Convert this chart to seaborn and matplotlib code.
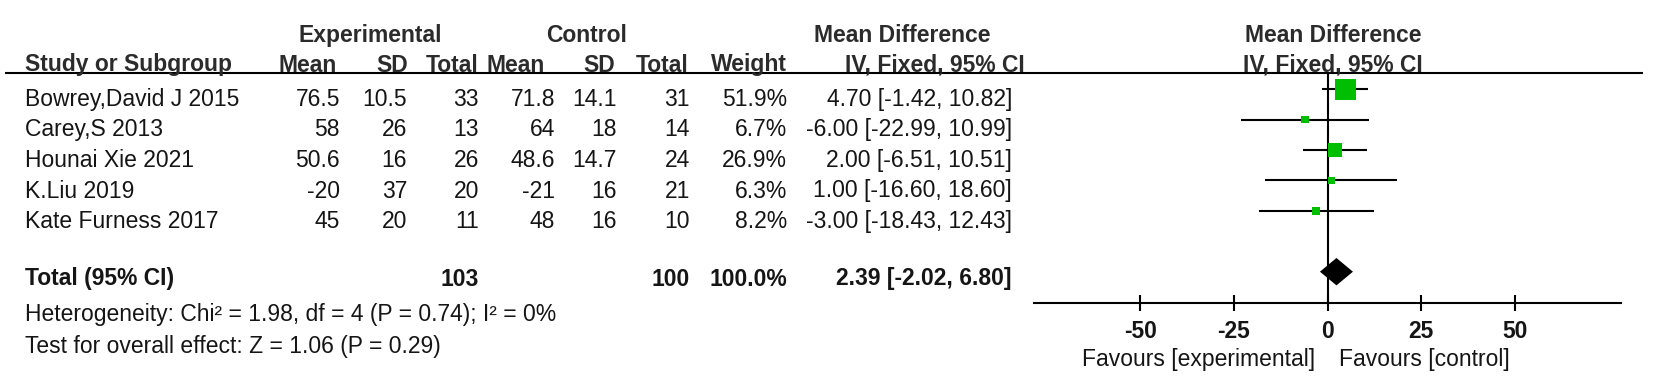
import numpy as np
import pandas as pd
import matplotlib
matplotlib.use("Agg")
import matplotlib.pyplot as plt
import matplotlib.transforms as mtransforms
import seaborn as sns

# ---------------- data ----------------
studies = ["Bowrey,David J 2015", "Carey,S 2013", "Hounai Xie 2021", "K.Liu 2019", "Kate Furness 2017"]
exp_mean = [76.5, 58, 50.6, -20, 45]
exp_sd = [10.5, 26, 16, 37, 20]
exp_n = [33, 13, 26, 20, 11]
ctrl_mean = [71.8, 64, 48.6, -21, 48]
ctrl_sd = [14.1, 18, 14.7, 16, 16]
ctrl_n = [31, 14, 24, 21, 10]
weights = [51.9, 6.7, 26.9, 6.3, 8.2]
md = [4.70, -6.00, 2.00, 1.00, -3.00]
ci_lo = [-1.42, -22.99, -6.51, -16.60, -18.43]
ci_hi = [10.82, 10.99, 10.51, 18.60, 12.43]

total_exp_n = 103
total_ctrl_n = 100
total_weight = 100.0
total_md = 2.39
total_lo = -2.02
total_hi = 6.80

heterogeneity = "Heterogeneity: Chi² = 1.98, df = 4 (P = 0.74); I² = 0%"
overall = "Test for overall effect: Z = 1.06 (P = 0.29)"
x_ticks = [-50, -25, 0, 25, 50]
x_limits = (-78.4, 78.4)

# ---------------- style ----------------
sns.set_style("white")
plt.rcParams["font.family"] = ["Liberation Sans", "DejaVu Sans"]
FS = 16.5
TXT = "#151515"
HDR = "#2b2b2b"
GREEN = "#00bf00"
LW = 1.5

W, H = 1654, 390
fig = plt.figure(figsize=(W / 100, H / 100), dpi=100)

# text layer in pixel coordinates
ax_t = fig.add_axes([0, 0, 1, 1])
ax_t.set_xlim(0, W)
ax_t.set_ylim(H, 0)
ax_t.axis("off")

# forest axes
fx0, fx1 = 1034, 1621
fy0, fy1 = 73, 303
ax_f = fig.add_axes([fx0 / W, (H - fy1) / H, (fx1 - fx0) / W, (fy1 - fy0) / H])
ax_f.set_facecolor("none")

# ---------------- headers ----------------
def t(x, y, s, ha="right", bold=False, color=TXT, va="baseline"):
    ax_t.text(x, y, s, ha=ha, va=va, fontsize=FS,
              fontweight="bold" if bold else "normal", color=color)

t(370, 42, "Experimental", ha="center", bold=True, color=HDR)
t(587, 42, "Control", ha="center", bold=True, color=HDR)
t(902, 42, "Mean Difference", ha="center", bold=True, color=HDR)
t(1333, 42, "Mean Difference", ha="center", bold=True, color=HDR)

hy = 71.5
t(25, hy, "Study or Subgroup", ha="left", bold=True, color=HDR)
for x, s in [(337, "Mean"), (408, "SD"), (478, "Total"), (545, "Mean"),
             (615, "SD"), (689, "Total"), (787, "Weight"), (1025, "IV, Fixed, 95% CI")]:
    t(x, hy, s, bold=True, color=HDR)
t(1333, hy, "IV, Fixed, 95% CI", ha="center", bold=True, color=HDR)

ax_t.plot([5, 1643], [73, 73], color="black", lw=LW, solid_capstyle="butt")

# ---------------- study rows ----------------
base0, step = 105.7, 30.6
for i, name in enumerate(studies):
    y = base0 + i * step
    t(25, y, name, ha="left")
    t(340, y, f"{exp_mean[i]:g}")
    t(407, y, f"{exp_sd[i]:g}")
    t(479, y, f"{exp_n[i]}")
    t(555, y, f"{ctrl_mean[i]:g}")
    t(617, y, f"{ctrl_sd[i]:g}")
    t(690, y, f"{ctrl_n[i]}")
    t(787, y, f"{weights[i]:.1f}%")
    t(1012, y, f"{md[i]:.2f} [{ci_lo[i]:.2f}, {ci_hi[i]:.2f}]")

ty = 285.5
t(25, ty, "Total (95% CI)", ha="left", bold=True)
t(479, ty, f"{total_exp_n}", bold=True)
t(690, ty, f"{total_ctrl_n}", bold=True)
t(787, ty, f"{total_weight:.1f}%", bold=True)
t(1012, ty, f"{total_md:.2f} [{total_lo:.2f}, {total_hi:.2f}]", bold=True)

t(25, 321, heterogeneity, ha="left")
t(25, 352.7, overall, ha="left")

# ---------------- forest plot ----------------
rows = list(range(len(studies)))
total_row = len(studies) + 1
df = pd.DataFrame({"row": rows, "md": md, "lo": ci_lo, "hi": ci_hi, "weight": weights})

ax_f.hlines(df["row"], df["lo"], df["hi"], color="black", lw=LW, zorder=2)
ax_f.axvline(0, color="black", lw=LW, zorder=1)

# square side grows linearly with weight (pixels -> points)
wmin, wmax = min(weights), max(weights)
side_px = {w: 7 + (21 - 7) * (w - wmin) / (wmax - wmin) for w in weights}
size_map = {w: (s * 0.72) ** 2 for w, s in side_px.items()}
sns.scatterplot(data=df, x="md", y="row", size="weight", sizes=size_map,
                marker="s", color=GREEN, edgecolor="none", linewidth=0,
                legend=False, ax=ax_f, zorder=3)

dh = 0.45
ax_f.fill([total_lo, total_md, total_hi, total_md],
          [total_row, total_row - dh, total_row, total_row + dh],
          color="black", zorder=4, lw=0)

ax_f.set_xlim(*x_limits)
ax_f.set_ylim(7.03, -0.536)
ax_f.set_xticks(x_ticks)
ax_f.set_xticklabels([str(v) for v in x_ticks], fontsize=FS, fontweight="bold", color=TXT)
ax_f.set_yticks([])
ax_f.set_xlabel("")
ax_f.set_ylabel("")
for s in ["left", "right", "top"]:
    ax_f.spines[s].set_visible(False)
ax_f.spines["bottom"].set_linewidth(LW)
ax_f.spines["bottom"].set_color("black")
ax_f.tick_params(axis="x", direction="inout", length=11, width=LW, color="black", pad=7, bottom=True)

# favours labels
blend = mtransforms.blended_transform_factory(ax_f.transData, ax_t.transData)
ax_f.text(-3.3, 366, "Favours [experimental]", ha="right", va="baseline", fontsize=FS,
          color=TXT, transform=blend, clip_on=False)
ax_f.text(3.1, 366, "Favours [control]", ha="left", va="baseline", fontsize=FS,
          color=TXT, transform=blend, clip_on=False)

fig.savefig("out.png", dpi=100)
